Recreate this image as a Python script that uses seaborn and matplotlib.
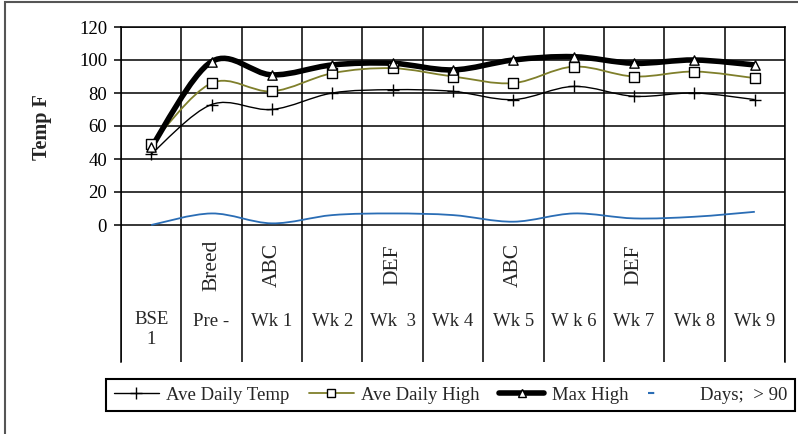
import numpy as np
import matplotlib
matplotlib.use('Agg')
import matplotlib.pyplot as plt
from matplotlib.path import Path
from matplotlib.patches import PathPatch, Rectangle
from matplotlib.lines import Line2D
import seaborn as sns

# categories (inner level) and the rotated outer labels
labels = ['BSE\n1', 'Pre -', 'Wk 1', 'Wk 2', 'Wk  3', 'Wk 4', 'Wk 5', 'W k 6', 'Wk 7', 'Wk 8', 'Wk 9']
group_labels = ['', 'Breed', 'ABC', '', 'DEF', '', 'ABC', '', 'DEF', '', '']

# series
ave_temp = [43, 73, 70, 80, 82, 81, 76, 84, 78, 80, 76]
ave_high = [49, 86, 81, 92, 95, 90, 86, 96, 90, 93, 89]
max_high = [47, 99, 91, 97, 98, 94, 100, 102, 98, 100, 97]
days_90 = [0, 7, 1, 6, 7, 6, 2, 7, 4, 5, 8]

series_names = ['Ave Daily Temp', 'Ave Daily High', 'Max High', 'Days;  > 90']

olive = '#7f7f2b'
blue = '#2a6db5'


def smooth_path(xs, ys):
    # excel style smoothed line: bezier segments through the points
    pts = np.column_stack([xs, ys]).astype(float)
    n = len(pts)
    verts = [pts[0]]
    codes = [Path.MOVETO]
    for i in range(n - 1):
        p0 = pts[i - 1] if i > 0 else pts[i]
        p1 = pts[i]
        p2 = pts[i + 1]
        p3 = pts[i + 2] if i + 2 < n else pts[i + 1]
        c1 = p1 + (p2 - p0) / 6
        c2 = p2 - (p3 - p1) / 6
        verts += [c1, c2, p2]
        codes += [Path.CURVE4] * 3
    return Path(verts, codes)


sns.set_style('white')
plt.rcParams['font.family'] = ['Liberation Serif', 'DejaVu Serif']

W, H = 798, 434
fig = plt.figure(figsize=(W / 100, H / 100), dpi=100)
# axes spans from the 120 line (y=27px) down to bottom of category table (y=362px)
ax = fig.add_axes([121 / W, 1 - 362 / H, (785 - 121) / W, (362 - 27) / H])

x = np.arange(len(labels))
ymin = -(362 - 225) / (198 / 120)
ax.set_xlim(-0.5, len(labels) - 0.5)
ax.set_ylim(ymin, 120)

# grid: horizontal lines at ticks, vertical lines at category boundaries
ax.set_yticks(range(0, 121, 20))
ax.hlines(range(0, 121, 20), -0.5, len(labels) - 0.5, color='black', lw=1.1, zorder=1)
ax.vlines(np.arange(len(labels) + 1) - 0.5, ymin, 120, color='black', lw=1.1, zorder=1)
ax.set_xticks([])
ax.spines['bottom'].set_visible(False)
for side in ['top', 'left', 'right']:
    ax.spines[side].set_color('black')
    ax.spines[side].set_linewidth(1.1)
ax.tick_params(axis='y', direction='out', length=5, width=1.1, pad=5, labelsize=13.5, left=True, colors='black')

# smoothed lines
ax.add_patch(PathPatch(smooth_path(x, days_90), fill=False, edgecolor=blue, lw=1.3, zorder=3))
ax.add_patch(PathPatch(smooth_path(x, ave_temp), fill=False, edgecolor='black', lw=1.0, zorder=3))
ax.add_patch(PathPatch(smooth_path(x, ave_high), fill=False, edgecolor=olive, lw=1.3, zorder=3))
ax.add_patch(PathPatch(smooth_path(x, max_high), fill=False, edgecolor='black', lw=4, zorder=4))

# markers
sns.scatterplot(x=x, y=ave_temp, marker='+', s=80, color='black', linewidth=1.0, ax=ax, zorder=5, legend=False)
sns.scatterplot(x=x, y=ave_high, marker='s', s=50, facecolor='white', edgecolor='black', linewidth=1.0,
                ax=ax, zorder=6, legend=False)
sns.scatterplot(x=x, y=max_high, marker='^', s=45, facecolor='white', edgecolor='black', linewidth=1.0,
                ax=ax, zorder=6, legend=False)

# category labels
y_lab = -(321 - 225) / (198 / 120)
y_grp = -(265 - 225) / (198 / 120)
for i, lab in enumerate(labels):
    if '\n' in lab:
        ax.text(i, y_lab + 6, lab, ha='center', va='top', fontsize=13.5, linespacing=1.2)
    else:
        ax.text(i, y_lab, lab, ha='center', va='center', fontsize=13.5)
    if group_labels[i]:
        ax.text(i, y_grp, group_labels[i], ha='center', va='center', rotation=90, fontsize=15.5)

ax.set_ylabel('Temp F', fontsize=14.5, fontweight='bold')
ax.yaxis.set_label_coords(-0.104, (362 - 127) / (362 - 27))

# legend
handles = [
    Line2D([], [], color='black', lw=1.0, marker='+', ms=9, mec='black'),
    Line2D([], [], color=olive, lw=1.3, marker='s', ms=6, mfc='white', mec='black'),
    Line2D([], [], color='black', lw=4, marker='^', ms=6, mfc='white', mec='black'),
    Line2D([], [], color=blue, lw=1.5, dashes=(3, 40)),
]
leg = fig.legend(handles, series_names, loc='lower left',
                 bbox_to_anchor=(106 / W, 1 - 411 / H, (795 - 106) / W, 37 / H),
                 ncol=4, mode='expand', frameon=True, fancybox=False, edgecolor='black',
                 borderaxespad=0, handlelength=2.4, handletextpad=0.4, fontsize=13.5,
                 framealpha=1)
leg.get_frame().set_linewidth(1.5)

# outer chart border
fig.patches.append(Rectangle((5 / W, -0.1), 1.2, 1.1 - 2 / H, transform=fig.transFigure,
                             fill=False, edgecolor='#555555', lw=1.5))

fig.savefig('out.png', dpi=100)
